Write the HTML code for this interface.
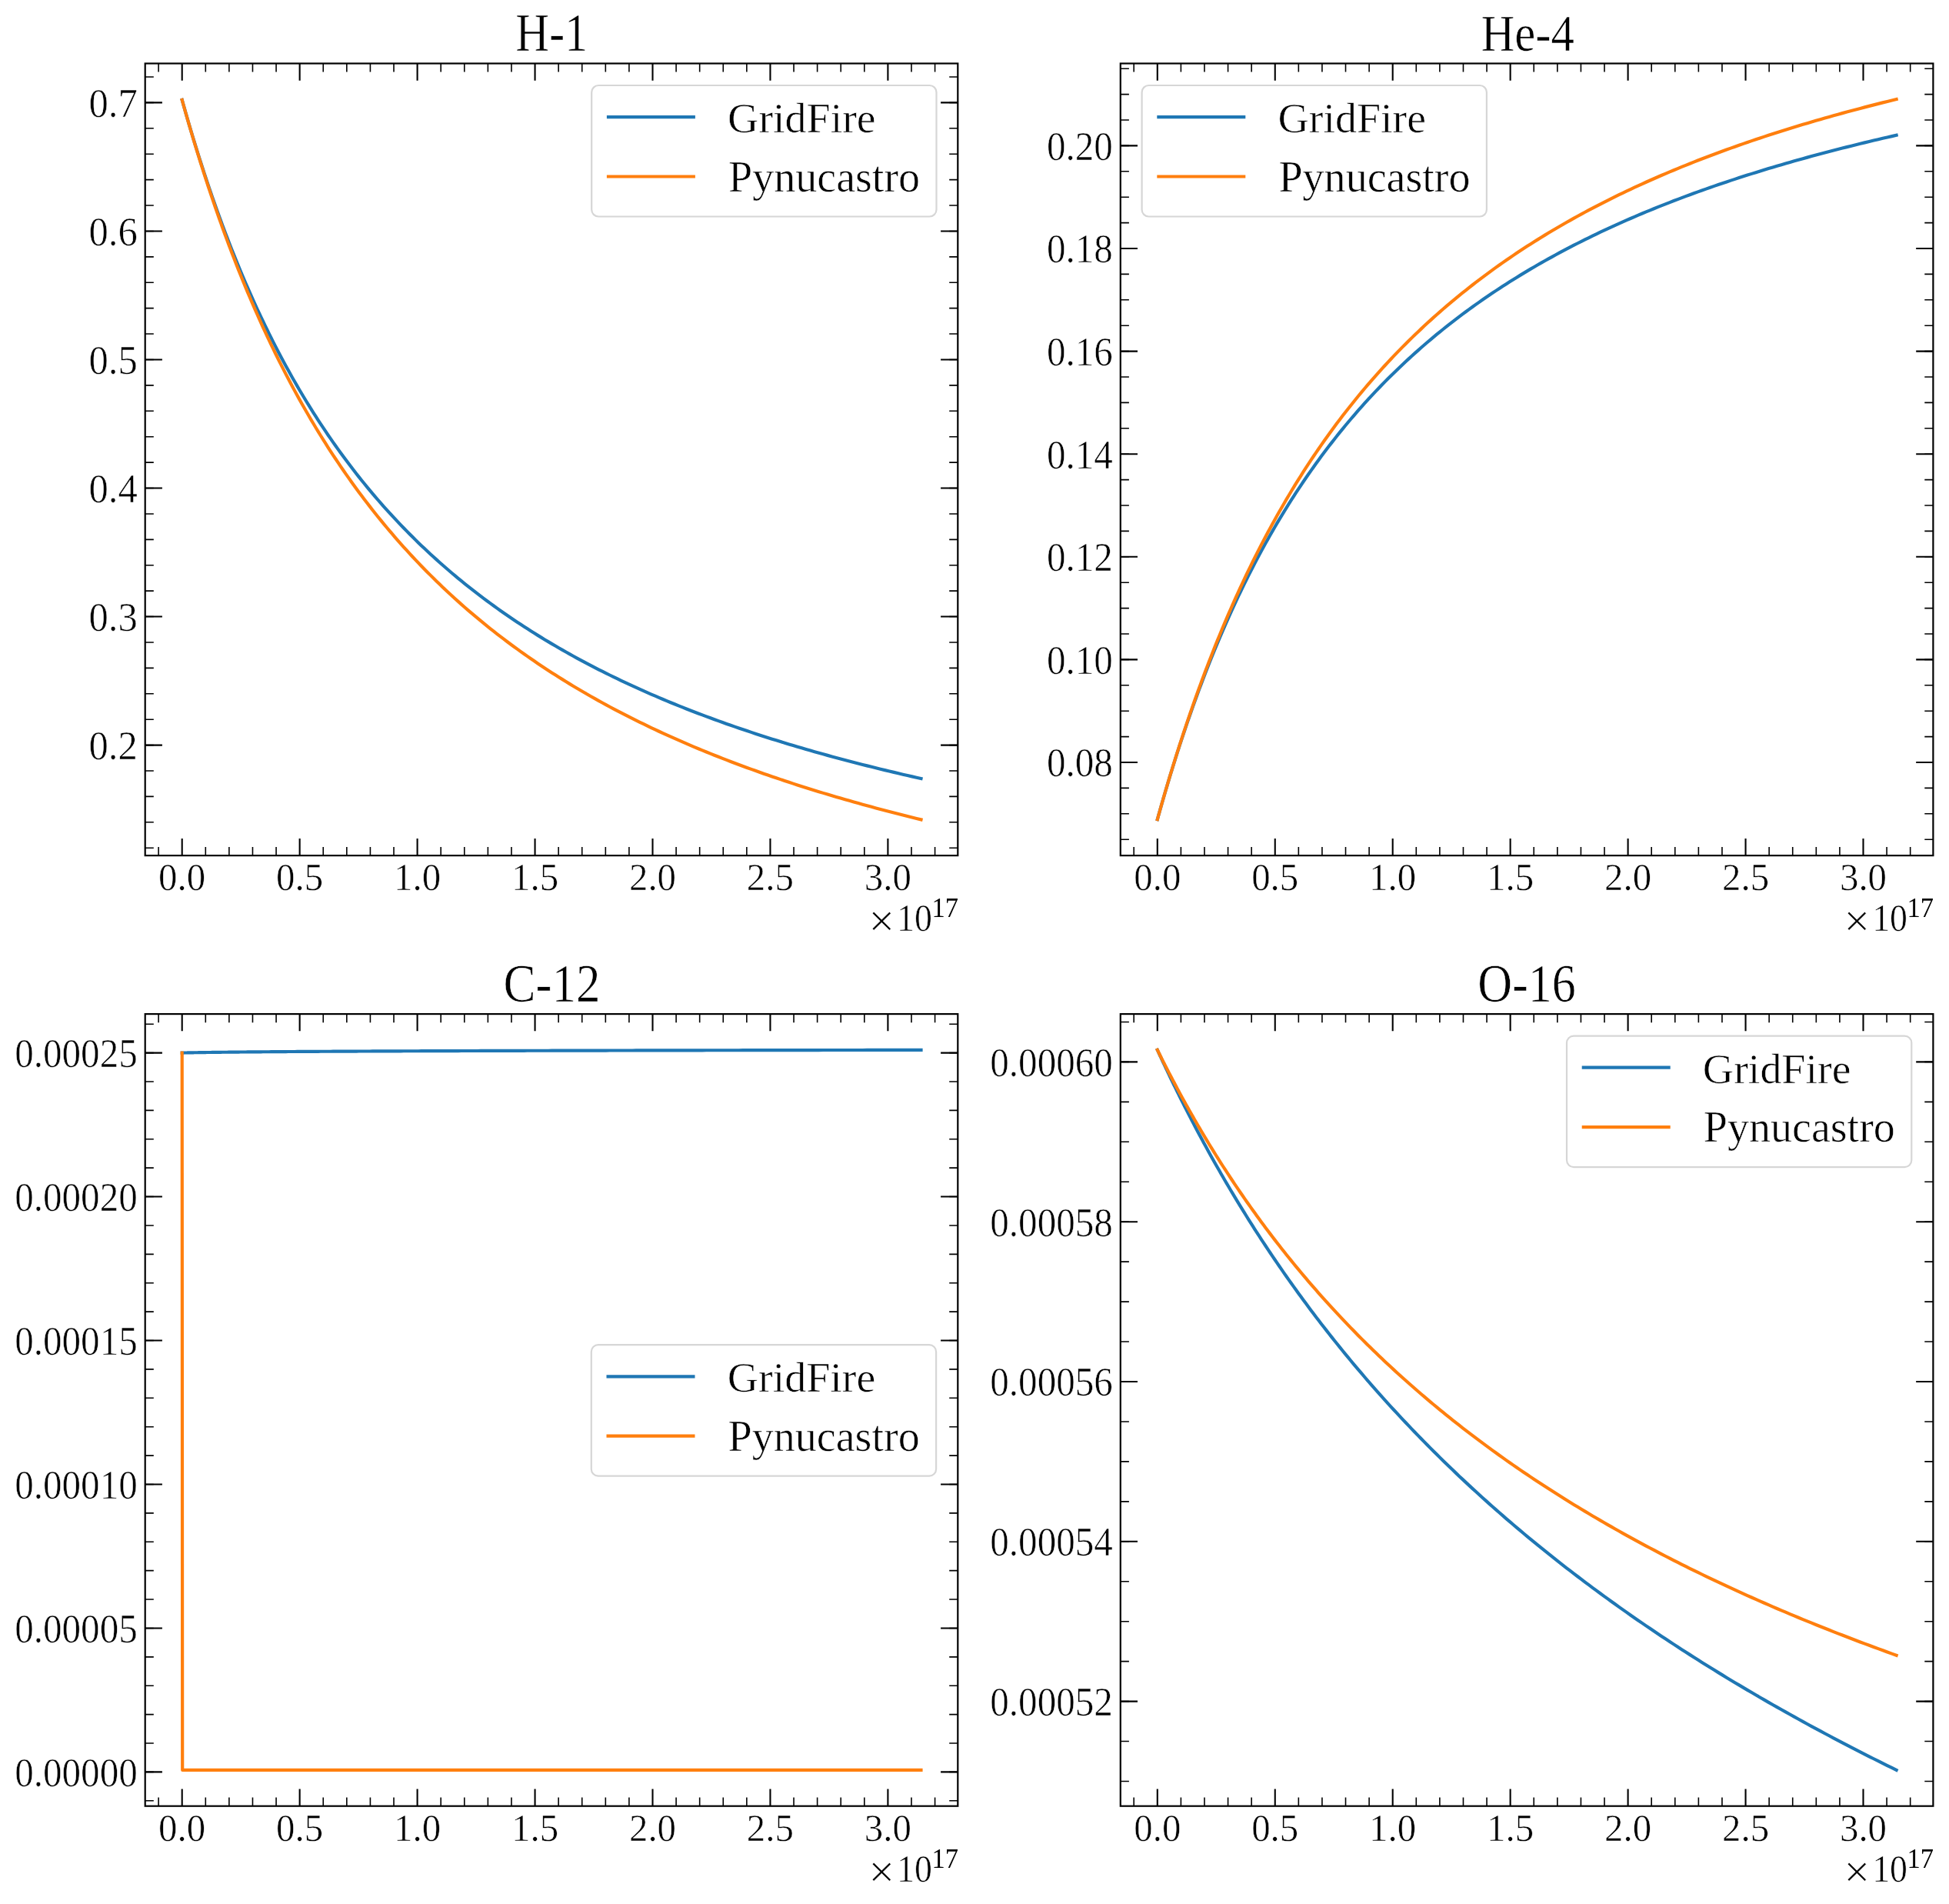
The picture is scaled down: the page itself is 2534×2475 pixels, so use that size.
<!DOCTYPE html>
<html><head><meta charset="utf-8"><style>
html,body{margin:0;padding:0;background:#fff;}
svg{display:block;will-change:transform;}
text{font-family:"Liberation Serif",serif;fill:#000;stroke:#fff;stroke-width:0.6px;}
</style></head><body>
<svg width="2534" height="2475" viewBox="0 0 2534 2475">
<rect width="2534" height="2475" fill="#fff"/>
<g stroke="#000" fill="none"><path d="M206.11 1112.10v-11.1M206.11 82.50v11.1" stroke-width="1.6"/><path d="M236.70 1112.10v-22.2M236.70 82.50v22.2" stroke-width="2.1"/><path d="M267.29 1112.10v-11.1M267.29 82.50v11.1" stroke-width="1.6"/><path d="M297.88 1112.10v-11.1M297.88 82.50v11.1" stroke-width="1.6"/><path d="M328.47 1112.10v-11.1M328.47 82.50v11.1" stroke-width="1.6"/><path d="M359.06 1112.10v-11.1M359.06 82.50v11.1" stroke-width="1.6"/><path d="M389.65 1112.10v-22.2M389.65 82.50v22.2" stroke-width="2.1"/><path d="M420.24 1112.10v-11.1M420.24 82.50v11.1" stroke-width="1.6"/><path d="M450.83 1112.10v-11.1M450.83 82.50v11.1" stroke-width="1.6"/><path d="M481.42 1112.10v-11.1M481.42 82.50v11.1" stroke-width="1.6"/><path d="M512.01 1112.10v-11.1M512.01 82.50v11.1" stroke-width="1.6"/><path d="M542.60 1112.10v-22.2M542.60 82.50v22.2" stroke-width="2.1"/><path d="M573.19 1112.10v-11.1M573.19 82.50v11.1" stroke-width="1.6"/><path d="M603.78 1112.10v-11.1M603.78 82.50v11.1" stroke-width="1.6"/><path d="M634.37 1112.10v-11.1M634.37 82.50v11.1" stroke-width="1.6"/><path d="M664.96 1112.10v-11.1M664.96 82.50v11.1" stroke-width="1.6"/><path d="M695.55 1112.10v-22.2M695.55 82.50v22.2" stroke-width="2.1"/><path d="M726.14 1112.10v-11.1M726.14 82.50v11.1" stroke-width="1.6"/><path d="M756.73 1112.10v-11.1M756.73 82.50v11.1" stroke-width="1.6"/><path d="M787.32 1112.10v-11.1M787.32 82.50v11.1" stroke-width="1.6"/><path d="M817.91 1112.10v-11.1M817.91 82.50v11.1" stroke-width="1.6"/><path d="M848.50 1112.10v-22.2M848.50 82.50v22.2" stroke-width="2.1"/><path d="M879.09 1112.10v-11.1M879.09 82.50v11.1" stroke-width="1.6"/><path d="M909.68 1112.10v-11.1M909.68 82.50v11.1" stroke-width="1.6"/><path d="M940.27 1112.10v-11.1M940.27 82.50v11.1" stroke-width="1.6"/><path d="M970.86 1112.10v-11.1M970.86 82.50v11.1" stroke-width="1.6"/><path d="M1001.45 1112.10v-22.2M1001.45 82.50v22.2" stroke-width="2.1"/><path d="M1032.04 1112.10v-11.1M1032.04 82.50v11.1" stroke-width="1.6"/><path d="M1062.63 1112.10v-11.1M1062.63 82.50v11.1" stroke-width="1.6"/><path d="M1093.22 1112.10v-11.1M1093.22 82.50v11.1" stroke-width="1.6"/><path d="M1123.81 1112.10v-11.1M1123.81 82.50v11.1" stroke-width="1.6"/><path d="M1154.40 1112.10v-22.2M1154.40 82.50v22.2" stroke-width="2.1"/><path d="M1184.99 1112.10v-11.1M1184.99 82.50v11.1" stroke-width="1.6"/><path d="M1215.58 1112.10v-11.1M1215.58 82.50v11.1" stroke-width="1.6"/><path d="M188.70 1102.23h11.1M1245.30 1102.23h-11.1" stroke-width="1.6"/><path d="M188.70 1068.82h11.1M1245.30 1068.82h-11.1" stroke-width="1.6"/><path d="M188.70 1035.42h11.1M1245.30 1035.42h-11.1" stroke-width="1.6"/><path d="M188.70 1002.01h11.1M1245.30 1002.01h-11.1" stroke-width="1.6"/><path d="M188.70 968.60h11.1M1245.30 968.60h-11.1" stroke-width="1.6"/><path d="M188.70 935.19h11.1M1245.30 935.19h-11.1" stroke-width="1.6"/><path d="M188.70 901.78h11.1M1245.30 901.78h-11.1" stroke-width="1.6"/><path d="M188.70 868.38h11.1M1245.30 868.38h-11.1" stroke-width="1.6"/><path d="M188.70 834.97h11.1M1245.30 834.97h-11.1" stroke-width="1.6"/><path d="M188.70 801.56h11.1M1245.30 801.56h-11.1" stroke-width="1.6"/><path d="M188.70 768.15h11.1M1245.30 768.15h-11.1" stroke-width="1.6"/><path d="M188.70 734.74h11.1M1245.30 734.74h-11.1" stroke-width="1.6"/><path d="M188.70 701.34h11.1M1245.30 701.34h-11.1" stroke-width="1.6"/><path d="M188.70 667.93h11.1M1245.30 667.93h-11.1" stroke-width="1.6"/><path d="M188.70 634.52h11.1M1245.30 634.52h-11.1" stroke-width="1.6"/><path d="M188.70 601.11h11.1M1245.30 601.11h-11.1" stroke-width="1.6"/><path d="M188.70 567.70h11.1M1245.30 567.70h-11.1" stroke-width="1.6"/><path d="M188.70 534.30h11.1M1245.30 534.30h-11.1" stroke-width="1.6"/><path d="M188.70 500.89h11.1M1245.30 500.89h-11.1" stroke-width="1.6"/><path d="M188.70 467.48h11.1M1245.30 467.48h-11.1" stroke-width="1.6"/><path d="M188.70 434.07h11.1M1245.30 434.07h-11.1" stroke-width="1.6"/><path d="M188.70 400.66h11.1M1245.30 400.66h-11.1" stroke-width="1.6"/><path d="M188.70 367.26h11.1M1245.30 367.26h-11.1" stroke-width="1.6"/><path d="M188.70 333.85h11.1M1245.30 333.85h-11.1" stroke-width="1.6"/><path d="M188.70 300.44h11.1M1245.30 300.44h-11.1" stroke-width="1.6"/><path d="M188.70 267.03h11.1M1245.30 267.03h-11.1" stroke-width="1.6"/><path d="M188.70 233.62h11.1M1245.30 233.62h-11.1" stroke-width="1.6"/><path d="M188.70 200.22h11.1M1245.30 200.22h-11.1" stroke-width="1.6"/><path d="M188.70 166.81h11.1M1245.30 166.81h-11.1" stroke-width="1.6"/><path d="M188.70 133.40h11.1M1245.30 133.40h-11.1" stroke-width="1.6"/><path d="M188.70 99.99h11.1M1245.30 99.99h-11.1" stroke-width="1.6"/><path d="M188.70 968.60h22.2M1245.30 968.60h-22.2" stroke-width="2.1"/><path d="M188.70 801.56h22.2M1245.30 801.56h-22.2" stroke-width="2.1"/><path d="M188.70 634.52h22.2M1245.30 634.52h-22.2" stroke-width="2.1"/><path d="M188.70 467.48h22.2M1245.30 467.48h-22.2" stroke-width="2.1"/><path d="M188.70 300.44h22.2M1245.30 300.44h-22.2" stroke-width="2.1"/><path d="M188.70 133.40h22.2M1245.30 133.40h-22.2" stroke-width="2.1"/></g>
<path d="M236.70 129.89 L236.83 130.36 L237.10 131.32 L237.47 132.63 L237.92 134.22 L238.44 136.07 L239.02 138.15 L239.68 140.44 L240.38 142.93 L241.15 145.60 L241.96 148.44 L242.83 151.44 L243.75 154.59 L244.71 157.89 L245.72 161.32 L246.77 164.89 L247.87 168.57 L249.01 172.38 L250.18 176.29 L251.40 180.31 L252.66 184.43 L253.96 188.65 L255.29 192.95 L256.66 197.35 L258.07 201.82 L259.51 206.37 L260.98 211.00 L262.50 215.70 L264.04 220.46 L265.62 225.28 L267.23 230.16 L268.88 235.10 L270.55 240.09 L272.26 245.12 L274.00 250.21 L275.77 255.33 L277.57 260.50 L279.41 265.70 L281.27 270.94 L283.16 276.21 L285.08 281.51 L287.03 286.83 L289.01 292.18 L291.01 297.55 L293.05 302.94 L295.11 308.35 L297.20 313.78 L299.32 319.22 L301.47 324.67 L303.64 330.13 L305.84 335.59 L308.06 341.07 L310.32 346.55 L312.59 352.03 L314.90 357.51 L317.23 362.99 L319.58 368.47 L321.96 373.95 L324.37 379.42 L326.80 384.89 L329.26 390.35 L331.74 395.80 L334.24 401.25 L336.77 406.68 L339.33 412.10 L341.90 417.51 L344.50 422.90 L347.13 428.28 L349.78 433.65 L352.45 439.00 L355.15 444.33 L357.87 449.64 L360.61 454.93 L363.37 460.21 L366.16 465.46 L368.97 470.69 L371.80 475.90 L374.66 481.09 L377.54 486.26 L380.44 491.40 L383.36 496.52 L386.30 501.62 L389.27 506.69 L392.26 511.73 L395.27 516.75 L398.30 521.74 L401.35 526.71 L404.43 531.65 L407.52 536.56 L410.64 541.45 L413.77 546.31 L416.93 551.14 L420.11 555.94 L423.31 560.71 L426.53 565.46 L429.77 570.17 L433.04 574.86 L436.32 579.52 L439.62 584.15 L442.95 588.74 L446.29 593.31 L449.65 597.85 L453.04 602.36 L456.44 606.84 L459.86 611.29 L463.31 615.71 L466.77 620.10 L470.25 624.46 L473.75 628.79 L477.27 633.09 L480.82 637.36 L484.38 641.60 L487.96 645.81 L491.56 649.99 L495.17 654.14 L498.81 658.26 L502.47 662.35 L506.14 666.42 L509.84 670.45 L513.55 674.45 L517.28 678.42 L521.03 682.36 L524.80 686.27 L528.59 690.16 L532.39 694.01 L536.22 697.84 L540.06 701.63 L543.92 705.40 L547.80 709.14 L551.70 712.85 L555.62 716.53 L559.55 720.18 L563.50 723.81 L567.47 727.41 L571.46 730.98 L575.47 734.52 L579.49 738.03 L583.53 741.52 L587.59 744.98 L591.67 748.41 L595.76 751.81 L599.88 755.19 L604.01 758.54 L608.15 761.87 L612.32 765.16 L616.50 768.44 L620.70 771.68 L624.92 774.90 L629.15 778.10 L633.40 781.27 L637.67 784.41 L641.96 787.53 L646.26 790.62 L650.58 793.69 L654.92 796.74 L659.27 799.76 L663.64 802.75 L668.03 805.72 L672.43 808.67 L676.85 811.60 L681.29 814.50 L685.74 817.37 L690.22 820.23 L694.70 823.06 L699.21 825.87 L703.73 828.65 L708.26 831.41 L712.82 834.15 L717.39 836.87 L721.97 839.57 L726.58 842.24 L731.19 844.90 L735.83 847.53 L740.48 850.14 L745.15 852.73 L749.83 855.30 L754.53 857.85 L759.25 860.37 L763.98 862.88 L768.73 865.37 L773.49 867.83 L778.27 870.28 L783.06 872.71 L787.88 875.11 L792.70 877.50 L797.54 879.87 L802.40 882.22 L807.28 884.55 L812.17 886.86 L817.07 889.16 L821.99 891.43 L826.93 893.69 L831.88 895.93 L836.85 898.15 L841.83 900.35 L846.83 902.54 L851.85 904.71 L856.87 906.86 L861.92 908.99 L866.98 911.11 L872.05 913.21 L877.14 915.29 L882.25 917.36 L887.37 919.41 L892.51 921.44 L897.66 923.46 L902.82 925.46 L908.01 927.45 L913.20 929.42 L918.41 931.37 L923.64 933.31 L928.88 935.23 L934.14 937.14 L939.41 939.04 L944.69 940.91 L950.00 942.78 L955.31 944.63 L960.64 946.46 L965.99 948.28 L971.35 950.09 L976.72 951.88 L982.11 953.66 L987.51 955.43 L992.93 957.18 L998.37 958.91 L1003.81 960.64 L1009.28 962.35 L1014.75 964.05 L1020.24 965.73 L1025.75 967.40 L1031.27 969.06 L1036.80 970.71 L1042.35 972.34 L1047.92 973.96 L1053.50 975.57 L1059.09 977.16 L1064.69 978.75 L1070.31 980.32 L1075.95 981.88 L1081.60 983.42 L1087.26 984.96 L1092.94 986.48 L1098.63 988.00 L1104.34 989.50 L1110.06 990.99 L1115.79 992.47 L1121.54 993.93 L1127.30 995.39 L1133.08 996.84 L1138.87 998.27 L1144.67 999.69 L1150.49 1001.11 L1156.32 1002.51 L1162.17 1003.90 L1168.03 1005.28 L1173.90 1006.66 L1179.79 1008.02 L1185.69 1009.37 L1191.60 1010.71 L1197.53 1012.04" fill="none" stroke="#1f77b4" stroke-width="4.17" stroke-linecap="square" stroke-linejoin="round"/><path d="M236.70 129.89 L236.83 130.37 L237.10 131.33 L237.47 132.65 L237.92 134.26 L238.44 136.12 L239.02 138.22 L239.68 140.53 L240.38 143.03 L241.15 145.73 L241.96 148.59 L242.83 151.63 L243.75 154.81 L244.71 158.15 L245.72 161.62 L246.77 165.22 L247.87 168.96 L249.01 172.81 L250.18 176.78 L251.40 180.85 L252.66 185.03 L253.96 189.31 L255.29 193.69 L256.66 198.15 L258.07 202.70 L259.51 207.34 L260.98 212.05 L262.50 216.83 L264.04 221.68 L265.62 226.60 L267.23 231.59 L268.88 236.63 L270.55 241.73 L272.26 246.88 L274.00 252.08 L275.77 257.33 L277.57 262.63 L279.41 267.96 L281.27 273.34 L283.16 278.75 L285.08 284.20 L287.03 289.67 L289.01 295.18 L291.01 300.71 L293.05 306.27 L295.11 311.85 L297.20 317.45 L299.32 323.07 L301.47 328.70 L303.64 334.35 L305.84 340.01 L308.06 345.68 L310.32 351.36 L312.59 357.04 L314.90 362.73 L317.23 368.43 L319.58 374.13 L321.96 379.83 L324.37 385.52 L326.80 391.22 L329.26 396.91 L331.74 402.60 L334.24 408.28 L336.77 413.96 L339.33 419.62 L341.90 425.28 L344.50 430.93 L347.13 436.56 L349.78 442.19 L352.45 447.80 L355.15 453.39 L357.87 458.97 L360.61 464.54 L363.37 470.08 L366.16 475.61 L368.97 481.12 L371.80 486.61 L374.66 492.08 L377.54 497.53 L380.44 502.96 L383.36 508.37 L386.30 513.76 L389.27 519.12 L392.26 524.46 L395.27 529.77 L398.30 535.06 L401.35 540.33 L404.43 545.57 L407.52 550.78 L410.64 555.97 L413.77 561.13 L416.93 566.27 L420.11 571.38 L423.31 576.46 L426.53 581.51 L429.77 586.53 L433.04 591.53 L436.32 596.50 L439.62 601.43 L442.95 606.34 L446.29 611.22 L449.65 616.08 L453.04 620.90 L456.44 625.69 L459.86 630.45 L463.31 635.19 L466.77 639.89 L470.25 644.56 L473.75 649.20 L477.27 653.82 L480.82 658.40 L484.38 662.95 L487.96 667.47 L491.56 671.96 L495.17 676.42 L498.81 680.86 L502.47 685.26 L506.14 689.63 L509.84 693.97 L513.55 698.28 L517.28 702.55 L521.03 706.80 L524.80 711.02 L528.59 715.21 L532.39 719.37 L536.22 723.50 L540.06 727.60 L543.92 731.67 L547.80 735.71 L551.70 739.72 L555.62 743.70 L559.55 747.65 L563.50 751.57 L567.47 755.46 L571.46 759.33 L575.47 763.16 L579.49 766.97 L583.53 770.74 L587.59 774.49 L591.67 778.21 L595.76 781.90 L599.88 785.57 L604.01 789.20 L608.15 792.81 L612.32 796.39 L616.50 799.94 L620.70 803.47 L624.92 806.96 L629.15 810.43 L633.40 813.88 L637.67 817.29 L641.96 820.68 L646.26 824.05 L650.58 827.38 L654.92 830.69 L659.27 833.98 L663.64 837.24 L668.03 840.47 L672.43 843.68 L676.85 846.86 L681.29 850.02 L685.74 853.15 L690.22 856.26 L694.70 859.34 L699.21 862.40 L703.73 865.44 L708.26 868.45 L712.82 871.43 L717.39 874.40 L721.97 877.34 L726.58 880.25 L731.19 883.14 L735.83 886.01 L740.48 888.86 L745.15 891.68 L749.83 894.48 L754.53 897.26 L759.25 900.02 L763.98 902.75 L768.73 905.47 L773.49 908.16 L778.27 910.83 L783.06 913.48 L787.88 916.10 L792.70 918.71 L797.54 921.29 L802.40 923.86 L807.28 926.40 L812.17 928.93 L817.07 931.43 L821.99 933.91 L826.93 936.38 L831.88 938.82 L836.85 941.24 L841.83 943.65 L846.83 946.03 L851.85 948.40 L856.87 950.75 L861.92 953.08 L866.98 955.39 L872.05 957.68 L877.14 959.95 L882.25 962.21 L887.37 964.45 L892.51 966.67 L897.66 968.87 L902.82 971.05 L908.01 973.22 L913.20 975.37 L918.41 977.50 L923.64 979.62 L928.88 981.72 L934.14 983.80 L939.41 985.87 L944.69 987.92 L950.00 989.95 L955.31 991.97 L960.64 993.97 L965.99 995.96 L971.35 997.93 L976.72 999.88 L982.11 1001.82 L987.51 1003.75 L992.93 1005.66 L998.37 1007.55 L1003.81 1009.43 L1009.28 1011.29 L1014.75 1013.14 L1020.24 1014.98 L1025.75 1016.80 L1031.27 1018.61 L1036.80 1020.40 L1042.35 1022.18 L1047.92 1023.95 L1053.50 1025.70 L1059.09 1027.43 L1064.69 1029.16 L1070.31 1030.87 L1075.95 1032.57 L1081.60 1034.25 L1087.26 1035.92 L1092.94 1037.58 L1098.63 1039.23 L1104.34 1040.86 L1110.06 1042.48 L1115.79 1044.09 L1121.54 1045.69 L1127.30 1047.27 L1133.08 1048.84 L1138.87 1050.40 L1144.67 1051.95 L1150.49 1053.48 L1156.32 1055.01 L1162.17 1056.52 L1168.03 1058.02 L1173.90 1059.51 L1179.79 1060.99 L1185.69 1062.46 L1191.60 1063.91 L1197.53 1065.36" fill="none" stroke="#ff7f0e" stroke-width="4.17" stroke-linecap="square" stroke-linejoin="round"/>
<rect x="188.7" y="82.5" width="1056.60" height="1029.60" fill="none" stroke="#000" stroke-width="2.2" stroke-linejoin="miter"/>
<g font-size="52.8" transform="scale(0.96,1)"><text x="186.19" y="987.10" text-anchor="end">0.2</text><text x="186.19" y="820.06" text-anchor="end">0.3</text><text x="186.19" y="653.02" text-anchor="end">0.4</text><text x="186.19" y="485.98" text-anchor="end">0.5</text><text x="186.19" y="318.94" text-anchor="end">0.6</text><text x="186.19" y="151.90" text-anchor="end">0.7</text></g>
<g font-size="51.5" transform="scale(0.95,1)"><text x="249.16" y="1157.20" text-anchor="middle">0.0</text><text x="410.16" y="1157.20" text-anchor="middle">0.5</text><text x="571.16" y="1157.20" text-anchor="middle">1.0</text><text x="732.16" y="1157.20" text-anchor="middle">1.5</text><text x="893.16" y="1157.20" text-anchor="middle">2.0</text><text x="1054.16" y="1157.20" text-anchor="middle">2.5</text><text x="1215.16" y="1157.20" text-anchor="middle">3.0</text></g>
<text transform="translate(1129.18,1217.07) scale(1.0209,1)" font-size="59.01">×</text>
<text transform="translate(1166.09,1210.10) scale(0.9179,1)" font-size="49.93">10</text>
<text transform="translate(1211.48,1192.00) scale(0.9625,1)" font-size="35.91" style="stroke:none">17</text>
<text transform="translate(670.18,65.80) scale(0.8802,1)" font-size="68.79">H-1</text>
<rect x="769.2" y="111.0" width="448.3" height="170.5" rx="9" fill="#fff" fill-opacity="0.8" stroke="#d6d6d6" stroke-width="2.2"/>
<path d="M788.90 152.10h115" stroke="#1f77b4" stroke-width="4.17"/>
<path d="M788.90 229.50h115" stroke="#ff7f0e" stroke-width="4.17"/>
<text transform="translate(946.06,172.00) scale(1.0045,1)" font-size="55.68">GridFire</text>
<text transform="translate(947.02,248.80) scale(0.9714,1)" font-size="57.71">Pynucastro</text>
<g stroke="#000" fill="none"><path d="M1474.21 1112.10v-11.1M1474.21 82.50v11.1" stroke-width="1.6"/><path d="M1504.80 1112.10v-22.2M1504.80 82.50v22.2" stroke-width="2.1"/><path d="M1535.39 1112.10v-11.1M1535.39 82.50v11.1" stroke-width="1.6"/><path d="M1565.98 1112.10v-11.1M1565.98 82.50v11.1" stroke-width="1.6"/><path d="M1596.57 1112.10v-11.1M1596.57 82.50v11.1" stroke-width="1.6"/><path d="M1627.16 1112.10v-11.1M1627.16 82.50v11.1" stroke-width="1.6"/><path d="M1657.75 1112.10v-22.2M1657.75 82.50v22.2" stroke-width="2.1"/><path d="M1688.34 1112.10v-11.1M1688.34 82.50v11.1" stroke-width="1.6"/><path d="M1718.93 1112.10v-11.1M1718.93 82.50v11.1" stroke-width="1.6"/><path d="M1749.52 1112.10v-11.1M1749.52 82.50v11.1" stroke-width="1.6"/><path d="M1780.11 1112.10v-11.1M1780.11 82.50v11.1" stroke-width="1.6"/><path d="M1810.70 1112.10v-22.2M1810.70 82.50v22.2" stroke-width="2.1"/><path d="M1841.29 1112.10v-11.1M1841.29 82.50v11.1" stroke-width="1.6"/><path d="M1871.88 1112.10v-11.1M1871.88 82.50v11.1" stroke-width="1.6"/><path d="M1902.47 1112.10v-11.1M1902.47 82.50v11.1" stroke-width="1.6"/><path d="M1933.06 1112.10v-11.1M1933.06 82.50v11.1" stroke-width="1.6"/><path d="M1963.65 1112.10v-22.2M1963.65 82.50v22.2" stroke-width="2.1"/><path d="M1994.24 1112.10v-11.1M1994.24 82.50v11.1" stroke-width="1.6"/><path d="M2024.83 1112.10v-11.1M2024.83 82.50v11.1" stroke-width="1.6"/><path d="M2055.42 1112.10v-11.1M2055.42 82.50v11.1" stroke-width="1.6"/><path d="M2086.01 1112.10v-11.1M2086.01 82.50v11.1" stroke-width="1.6"/><path d="M2116.60 1112.10v-22.2M2116.60 82.50v22.2" stroke-width="2.1"/><path d="M2147.19 1112.10v-11.1M2147.19 82.50v11.1" stroke-width="1.6"/><path d="M2177.78 1112.10v-11.1M2177.78 82.50v11.1" stroke-width="1.6"/><path d="M2208.37 1112.10v-11.1M2208.37 82.50v11.1" stroke-width="1.6"/><path d="M2238.96 1112.10v-11.1M2238.96 82.50v11.1" stroke-width="1.6"/><path d="M2269.55 1112.10v-22.2M2269.55 82.50v22.2" stroke-width="2.1"/><path d="M2300.14 1112.10v-11.1M2300.14 82.50v11.1" stroke-width="1.6"/><path d="M2330.73 1112.10v-11.1M2330.73 82.50v11.1" stroke-width="1.6"/><path d="M2361.32 1112.10v-11.1M2361.32 82.50v11.1" stroke-width="1.6"/><path d="M2391.91 1112.10v-11.1M2391.91 82.50v11.1" stroke-width="1.6"/><path d="M2422.50 1112.10v-22.2M2422.50 82.50v22.2" stroke-width="2.1"/><path d="M2453.09 1112.10v-11.1M2453.09 82.50v11.1" stroke-width="1.6"/><path d="M2483.68 1112.10v-11.1M2483.68 82.50v11.1" stroke-width="1.6"/><path d="M1456.80 1091.20h11.1M2513.40 1091.20h-11.1" stroke-width="1.6"/><path d="M1456.80 1057.80h11.1M2513.40 1057.80h-11.1" stroke-width="1.6"/><path d="M1456.80 1024.40h11.1M2513.40 1024.40h-11.1" stroke-width="1.6"/><path d="M1456.80 991.00h11.1M2513.40 991.00h-11.1" stroke-width="1.6"/><path d="M1456.80 957.60h11.1M2513.40 957.60h-11.1" stroke-width="1.6"/><path d="M1456.80 924.20h11.1M2513.40 924.20h-11.1" stroke-width="1.6"/><path d="M1456.80 890.80h11.1M2513.40 890.80h-11.1" stroke-width="1.6"/><path d="M1456.80 857.40h11.1M2513.40 857.40h-11.1" stroke-width="1.6"/><path d="M1456.80 824.00h11.1M2513.40 824.00h-11.1" stroke-width="1.6"/><path d="M1456.80 790.60h11.1M2513.40 790.60h-11.1" stroke-width="1.6"/><path d="M1456.80 757.20h11.1M2513.40 757.20h-11.1" stroke-width="1.6"/><path d="M1456.80 723.80h11.1M2513.40 723.80h-11.1" stroke-width="1.6"/><path d="M1456.80 690.40h11.1M2513.40 690.40h-11.1" stroke-width="1.6"/><path d="M1456.80 657.00h11.1M2513.40 657.00h-11.1" stroke-width="1.6"/><path d="M1456.80 623.60h11.1M2513.40 623.60h-11.1" stroke-width="1.6"/><path d="M1456.80 590.20h11.1M2513.40 590.20h-11.1" stroke-width="1.6"/><path d="M1456.80 556.80h11.1M2513.40 556.80h-11.1" stroke-width="1.6"/><path d="M1456.80 523.40h11.1M2513.40 523.40h-11.1" stroke-width="1.6"/><path d="M1456.80 490.00h11.1M2513.40 490.00h-11.1" stroke-width="1.6"/><path d="M1456.80 456.60h11.1M2513.40 456.60h-11.1" stroke-width="1.6"/><path d="M1456.80 423.20h11.1M2513.40 423.20h-11.1" stroke-width="1.6"/><path d="M1456.80 389.80h11.1M2513.40 389.80h-11.1" stroke-width="1.6"/><path d="M1456.80 356.40h11.1M2513.40 356.40h-11.1" stroke-width="1.6"/><path d="M1456.80 323.00h11.1M2513.40 323.00h-11.1" stroke-width="1.6"/><path d="M1456.80 289.60h11.1M2513.40 289.60h-11.1" stroke-width="1.6"/><path d="M1456.80 256.20h11.1M2513.40 256.20h-11.1" stroke-width="1.6"/><path d="M1456.80 222.80h11.1M2513.40 222.80h-11.1" stroke-width="1.6"/><path d="M1456.80 189.40h11.1M2513.40 189.40h-11.1" stroke-width="1.6"/><path d="M1456.80 156.00h11.1M2513.40 156.00h-11.1" stroke-width="1.6"/><path d="M1456.80 122.60h11.1M2513.40 122.60h-11.1" stroke-width="1.6"/><path d="M1456.80 89.20h11.1M2513.40 89.20h-11.1" stroke-width="1.6"/><path d="M1456.80 991.00h22.2M2513.40 991.00h-22.2" stroke-width="2.1"/><path d="M1456.80 857.40h22.2M2513.40 857.40h-22.2" stroke-width="2.1"/><path d="M1456.80 723.80h22.2M2513.40 723.80h-22.2" stroke-width="2.1"/><path d="M1456.80 590.20h22.2M2513.40 590.20h-22.2" stroke-width="2.1"/><path d="M1456.80 456.60h22.2M2513.40 456.60h-22.2" stroke-width="2.1"/><path d="M1456.80 323.00h22.2M2513.40 323.00h-22.2" stroke-width="2.1"/><path d="M1456.80 189.40h22.2M2513.40 189.40h-22.2" stroke-width="2.1"/></g>
<path d="M1504.80 1065.15 L1504.93 1064.67 L1505.20 1063.70 L1505.57 1062.39 L1506.02 1060.78 L1506.54 1058.92 L1507.12 1056.82 L1507.78 1054.51 L1508.48 1052.01 L1509.25 1049.32 L1510.06 1046.45 L1510.93 1043.43 L1511.85 1040.25 L1512.81 1036.92 L1513.82 1033.46 L1514.87 1029.87 L1515.97 1026.15 L1517.11 1022.32 L1518.28 1018.37 L1519.50 1014.32 L1520.76 1010.16 L1522.06 1005.91 L1523.39 1001.57 L1524.76 997.14 L1526.17 992.63 L1527.61 988.04 L1529.08 983.38 L1530.60 978.64 L1532.14 973.84 L1533.72 968.98 L1535.33 964.06 L1536.98 959.08 L1538.65 954.05 L1540.36 948.97 L1542.10 943.85 L1543.87 938.68 L1545.67 933.47 L1547.51 928.23 L1549.37 922.95 L1551.26 917.63 L1553.18 912.29 L1555.13 906.92 L1557.11 901.53 L1559.11 896.12 L1561.15 890.68 L1563.21 885.23 L1565.30 879.76 L1567.42 874.28 L1569.57 868.78 L1571.74 863.28 L1573.94 857.76 L1576.16 852.25 L1578.42 846.72 L1580.69 841.20 L1583.00 835.67 L1585.33 830.14 L1587.68 824.61 L1590.06 819.09 L1592.47 813.57 L1594.90 808.06 L1597.36 802.56 L1599.84 797.06 L1602.34 791.57 L1604.87 786.10 L1607.43 780.63 L1610.00 775.18 L1612.60 769.74 L1615.23 764.32 L1617.88 758.91 L1620.55 753.52 L1623.25 748.14 L1625.97 742.79 L1628.71 737.45 L1631.47 732.13 L1634.26 726.83 L1637.07 721.56 L1639.90 716.30 L1642.76 711.07 L1645.64 705.86 L1648.54 700.68 L1651.46 695.52 L1654.40 690.38 L1657.37 685.27 L1660.36 680.18 L1663.37 675.12 L1666.40 670.09 L1669.45 665.08 L1672.53 660.10 L1675.62 655.15 L1678.74 650.22 L1681.87 645.33 L1685.03 640.46 L1688.21 635.61 L1691.41 630.80 L1694.63 626.02 L1697.87 621.26 L1701.14 616.54 L1704.42 611.84 L1707.72 607.18 L1711.05 602.54 L1714.39 597.93 L1717.75 593.36 L1721.14 588.81 L1724.54 584.29 L1727.96 579.81 L1731.41 575.35 L1734.87 570.93 L1738.35 566.53 L1741.85 562.16 L1745.37 557.83 L1748.92 553.52 L1752.48 549.25 L1756.06 545.00 L1759.66 540.79 L1763.27 536.61 L1766.91 532.45 L1770.57 528.33 L1774.24 524.23 L1777.94 520.17 L1781.65 516.14 L1785.38 512.13 L1789.13 508.16 L1792.90 504.21 L1796.69 500.30 L1800.49 496.41 L1804.32 492.56 L1808.16 488.73 L1812.02 484.93 L1815.90 481.16 L1819.80 477.42 L1823.72 473.71 L1827.65 470.03 L1831.60 466.37 L1835.57 462.75 L1839.56 459.15 L1843.57 455.58 L1847.59 452.03 L1851.63 448.52 L1855.69 445.03 L1859.77 441.57 L1863.86 438.14 L1867.98 434.73 L1872.11 431.36 L1876.25 428.00 L1880.42 424.68 L1884.60 421.38 L1888.80 418.11 L1893.02 414.86 L1897.25 411.64 L1901.50 408.44 L1905.77 405.27 L1910.06 402.13 L1914.36 399.01 L1918.68 395.92 L1923.02 392.85 L1927.37 389.80 L1931.74 386.78 L1936.13 383.79 L1940.53 380.81 L1944.95 377.87 L1949.39 374.94 L1953.84 372.04 L1958.32 369.16 L1962.80 366.31 L1967.31 363.48 L1971.83 360.67 L1976.36 357.89 L1980.92 355.12 L1985.49 352.38 L1990.07 349.66 L1994.68 346.97 L1999.29 344.29 L2003.93 341.64 L2008.58 339.01 L2013.25 336.40 L2017.93 333.81 L2022.63 331.24 L2027.35 328.69 L2032.08 326.16 L2036.83 323.66 L2041.59 321.17 L2046.37 318.70 L2051.16 316.26 L2055.98 313.83 L2060.80 311.42 L2065.64 309.03 L2070.50 306.66 L2075.38 304.31 L2080.27 301.98 L2085.17 299.67 L2090.09 297.38 L2095.03 295.10 L2099.98 292.84 L2104.95 290.61 L2109.93 288.38 L2114.93 286.18 L2119.95 284.00 L2124.97 281.83 L2130.02 279.68 L2135.08 277.54 L2140.15 275.42 L2145.24 273.32 L2150.35 271.24 L2155.47 269.17 L2160.61 267.12 L2165.76 265.09 L2170.92 263.07 L2176.11 261.07 L2181.30 259.08 L2186.51 257.11 L2191.74 255.16 L2196.98 253.22 L2202.24 251.29 L2207.51 249.38 L2212.79 247.49 L2218.10 245.61 L2223.41 243.75 L2228.74 241.90 L2234.09 240.06 L2239.45 238.24 L2244.82 236.43 L2250.21 234.64 L2255.61 232.86 L2261.03 231.09 L2266.47 229.34 L2271.91 227.60 L2277.38 225.88 L2282.85 224.17 L2288.34 222.47 L2293.85 220.79 L2299.37 219.11 L2304.90 217.45 L2310.45 215.81 L2316.02 214.18 L2321.60 212.55 L2327.19 210.95 L2332.79 209.35 L2338.41 207.76 L2344.05 206.19 L2349.70 204.63 L2355.36 203.08 L2361.04 201.55 L2366.73 200.02 L2372.44 198.51 L2378.16 197.01 L2383.89 195.52 L2389.64 194.04 L2395.40 192.57 L2401.18 191.11 L2406.97 189.66 L2412.77 188.23 L2418.59 186.80 L2424.42 185.39 L2430.27 183.99 L2436.13 182.59 L2442.00 181.21 L2447.89 179.84 L2453.79 178.48 L2459.70 177.12 L2465.63 175.78" fill="none" stroke="#1f77b4" stroke-width="4.17" stroke-linecap="square" stroke-linejoin="round"/><path d="M1504.80 1065.15 L1504.93 1064.67 L1505.20 1063.70 L1505.57 1062.39 L1506.02 1060.78 L1506.54 1058.92 L1507.12 1056.82 L1507.78 1054.51 L1508.48 1052.00 L1509.25 1049.30 L1510.06 1046.43 L1510.93 1043.40 L1511.85 1040.21 L1512.81 1036.87 L1513.82 1033.40 L1514.87 1029.79 L1515.97 1026.06 L1517.11 1022.20 L1518.28 1018.23 L1519.50 1014.15 L1520.76 1009.97 L1522.06 1005.68 L1523.39 1001.31 L1524.76 996.84 L1526.17 992.28 L1527.61 987.65 L1529.08 982.94 L1530.60 978.15 L1532.14 973.29 L1533.72 968.37 L1535.33 963.38 L1536.98 958.34 L1538.65 953.23 L1540.36 948.08 L1542.10 942.87 L1543.87 937.62 L1545.67 932.32 L1547.51 926.98 L1549.37 921.60 L1551.26 916.18 L1553.18 910.73 L1555.13 905.25 L1557.11 899.74 L1559.11 894.21 L1561.15 888.65 L1563.21 883.06 L1565.30 877.46 L1567.42 871.84 L1569.57 866.20 L1571.74 860.55 L1573.94 854.88 L1576.16 849.21 L1578.42 843.53 L1580.69 837.84 L1583.00 832.14 L1585.33 826.44 L1587.68 820.74 L1590.06 815.04 L1592.47 809.33 L1594.90 803.63 L1597.36 797.94 L1599.84 792.25 L1602.34 786.56 L1604.87 780.88 L1607.43 775.21 L1610.00 769.55 L1612.60 763.90 L1615.23 758.26 L1617.88 752.63 L1620.55 747.02 L1623.25 741.42 L1625.97 735.83 L1628.71 730.27 L1631.47 724.72 L1634.26 719.18 L1637.07 713.67 L1639.90 708.17 L1642.76 702.70 L1645.64 697.24 L1648.54 691.81 L1651.46 686.40 L1654.40 681.01 L1657.37 675.64 L1660.36 670.30 L1663.37 664.98 L1666.40 659.69 L1669.45 654.42 L1672.53 649.17 L1675.62 643.96 L1678.74 638.77 L1681.87 633.60 L1685.03 628.46 L1688.21 623.35 L1691.41 618.27 L1694.63 613.21 L1697.87 608.18 L1701.14 603.18 L1704.42 598.21 L1707.72 593.27 L1711.05 588.36 L1714.39 583.47 L1717.75 578.62 L1721.14 573.79 L1724.54 569.00 L1727.96 564.23 L1731.41 559.49 L1734.87 554.79 L1738.35 550.11 L1741.85 545.47 L1745.37 540.85 L1748.92 536.26 L1752.48 531.71 L1756.06 527.18 L1759.66 522.69 L1763.27 518.23 L1766.91 513.79 L1770.57 509.39 L1774.24 505.02 L1777.94 500.67 L1781.65 496.36 L1785.38 492.08 L1789.13 487.83 L1792.90 483.60 L1796.69 479.41 L1800.49 475.25 L1804.32 471.12 L1808.16 467.02 L1812.02 462.94 L1815.90 458.90 L1819.80 454.89 L1823.72 450.91 L1827.65 446.95 L1831.60 443.03 L1835.57 439.13 L1839.56 435.27 L1843.57 431.43 L1847.59 427.62 L1851.63 423.84 L1855.69 420.09 L1859.77 416.37 L1863.86 412.67 L1867.98 409.01 L1872.11 405.37 L1876.25 401.76 L1880.42 398.18 L1884.60 394.62 L1888.80 391.09 L1893.02 387.59 L1897.25 384.12 L1901.50 380.68 L1905.77 377.26 L1910.06 373.86 L1914.36 370.50 L1918.68 367.16 L1923.02 363.85 L1927.37 360.56 L1931.74 357.30 L1936.13 354.06 L1940.53 350.85 L1944.95 347.67 L1949.39 344.51 L1953.84 341.37 L1958.32 338.26 L1962.80 335.18 L1967.31 332.12 L1971.83 329.08 L1976.36 326.07 L1980.92 323.08 L1985.49 320.11 L1990.07 317.17 L1994.68 314.25 L1999.29 311.36 L2003.93 308.49 L2008.58 305.64 L2013.25 302.81 L2017.93 300.01 L2022.63 297.23 L2027.35 294.47 L2032.08 291.73 L2036.83 289.02 L2041.59 286.33 L2046.37 283.66 L2051.16 281.01 L2055.98 278.38 L2060.80 275.77 L2065.64 273.18 L2070.50 270.62 L2075.38 268.07 L2080.27 265.54 L2085.17 263.04 L2090.09 260.55 L2095.03 258.09 L2099.98 255.64 L2104.95 253.22 L2109.93 250.81 L2114.93 248.42 L2119.95 246.06 L2124.97 243.71 L2130.02 241.38 L2135.08 239.06 L2140.15 236.77 L2145.24 234.49 L2150.35 232.24 L2155.47 230.00 L2160.61 227.78 L2165.76 225.57 L2170.92 223.39 L2176.11 221.22 L2181.30 219.07 L2186.51 216.93 L2191.74 214.81 L2196.98 212.71 L2202.24 210.63 L2207.51 208.56 L2212.79 206.51 L2218.10 204.47 L2223.41 202.45 L2228.74 200.45 L2234.09 198.46 L2239.45 196.49 L2244.82 194.54 L2250.21 192.60 L2255.61 190.67 L2261.03 188.76 L2266.47 186.86 L2271.91 184.98 L2277.38 183.12 L2282.85 181.27 L2288.34 179.43 L2293.85 177.61 L2299.37 175.80 L2304.90 174.00 L2310.45 172.22 L2316.02 170.46 L2321.60 168.70 L2327.19 166.97 L2332.79 165.24 L2338.41 163.53 L2344.05 161.83 L2349.70 160.14 L2355.36 158.47 L2361.04 156.81 L2366.73 155.16 L2372.44 153.53 L2378.16 151.91 L2383.89 150.30 L2389.64 148.70 L2395.40 147.12 L2401.18 145.54 L2406.97 143.98 L2412.77 142.43 L2418.59 140.90 L2424.42 139.37 L2430.27 137.86 L2436.13 136.36 L2442.00 134.87 L2447.89 133.39 L2453.79 131.92 L2459.70 130.46 L2465.63 129.02" fill="none" stroke="#ff7f0e" stroke-width="4.17" stroke-linecap="square" stroke-linejoin="round"/>
<rect x="1456.8" y="82.5" width="1056.60" height="1029.60" fill="none" stroke="#000" stroke-width="2.2" stroke-linejoin="miter"/>
<g font-size="52.8" transform="scale(0.93,1)"><text x="1555.74" y="1009.50" text-anchor="end">0.08</text><text x="1555.74" y="875.90" text-anchor="end">0.10</text><text x="1555.74" y="742.30" text-anchor="end">0.12</text><text x="1555.74" y="608.70" text-anchor="end">0.14</text><text x="1555.74" y="475.10" text-anchor="end">0.16</text><text x="1555.74" y="341.50" text-anchor="end">0.18</text><text x="1555.74" y="207.90" text-anchor="end">0.20</text></g>
<g font-size="51.5" transform="scale(0.95,1)"><text x="1584.00" y="1157.20" text-anchor="middle">0.0</text><text x="1745.00" y="1157.20" text-anchor="middle">0.5</text><text x="1906.00" y="1157.20" text-anchor="middle">1.0</text><text x="2067.00" y="1157.20" text-anchor="middle">1.5</text><text x="2228.00" y="1157.20" text-anchor="middle">2.0</text><text x="2389.00" y="1157.20" text-anchor="middle">2.5</text><text x="2550.00" y="1157.20" text-anchor="middle">3.0</text></g>
<text transform="translate(2397.28,1217.07) scale(1.0209,1)" font-size="59.01">×</text>
<text transform="translate(2434.19,1210.10) scale(0.9179,1)" font-size="49.93">10</text>
<text transform="translate(2479.58,1192.00) scale(0.9625,1)" font-size="35.91" style="stroke:none">17</text>
<text transform="translate(1925.38,65.61) scale(0.8864,1)" font-size="68.61">He-4</text>
<rect x="1484.6" y="111.0" width="448.3" height="170.5" rx="9" fill="#fff" fill-opacity="0.8" stroke="#d6d6d6" stroke-width="2.2"/>
<path d="M1504.30 152.10h115" stroke="#1f77b4" stroke-width="4.17"/>
<path d="M1504.30 229.50h115" stroke="#ff7f0e" stroke-width="4.17"/>
<text transform="translate(1661.46,172.00) scale(1.0045,1)" font-size="55.68">GridFire</text>
<text transform="translate(1662.42,248.80) scale(0.9714,1)" font-size="57.71">Pynucastro</text>
<g stroke="#000" fill="none"><path d="M206.11 2347.70v-11.1M206.11 1318.10v11.1" stroke-width="1.6"/><path d="M236.70 2347.70v-22.2M236.70 1318.10v22.2" stroke-width="2.1"/><path d="M267.29 2347.70v-11.1M267.29 1318.10v11.1" stroke-width="1.6"/><path d="M297.88 2347.70v-11.1M297.88 1318.10v11.1" stroke-width="1.6"/><path d="M328.47 2347.70v-11.1M328.47 1318.10v11.1" stroke-width="1.6"/><path d="M359.06 2347.70v-11.1M359.06 1318.10v11.1" stroke-width="1.6"/><path d="M389.65 2347.70v-22.2M389.65 1318.10v22.2" stroke-width="2.1"/><path d="M420.24 2347.70v-11.1M420.24 1318.10v11.1" stroke-width="1.6"/><path d="M450.83 2347.70v-11.1M450.83 1318.10v11.1" stroke-width="1.6"/><path d="M481.42 2347.70v-11.1M481.42 1318.10v11.1" stroke-width="1.6"/><path d="M512.01 2347.70v-11.1M512.01 1318.10v11.1" stroke-width="1.6"/><path d="M542.60 2347.70v-22.2M542.60 1318.10v22.2" stroke-width="2.1"/><path d="M573.19 2347.70v-11.1M573.19 1318.10v11.1" stroke-width="1.6"/><path d="M603.78 2347.70v-11.1M603.78 1318.10v11.1" stroke-width="1.6"/><path d="M634.37 2347.70v-11.1M634.37 1318.10v11.1" stroke-width="1.6"/><path d="M664.96 2347.70v-11.1M664.96 1318.10v11.1" stroke-width="1.6"/><path d="M695.55 2347.70v-22.2M695.55 1318.10v22.2" stroke-width="2.1"/><path d="M726.14 2347.70v-11.1M726.14 1318.10v11.1" stroke-width="1.6"/><path d="M756.73 2347.70v-11.1M756.73 1318.10v11.1" stroke-width="1.6"/><path d="M787.32 2347.70v-11.1M787.32 1318.10v11.1" stroke-width="1.6"/><path d="M817.91 2347.70v-11.1M817.91 1318.10v11.1" stroke-width="1.6"/><path d="M848.50 2347.70v-22.2M848.50 1318.10v22.2" stroke-width="2.1"/><path d="M879.09 2347.70v-11.1M879.09 1318.10v11.1" stroke-width="1.6"/><path d="M909.68 2347.70v-11.1M909.68 1318.10v11.1" stroke-width="1.6"/><path d="M940.27 2347.70v-11.1M940.27 1318.10v11.1" stroke-width="1.6"/><path d="M970.86 2347.70v-11.1M970.86 1318.10v11.1" stroke-width="1.6"/><path d="M1001.45 2347.70v-22.2M1001.45 1318.10v22.2" stroke-width="2.1"/><path d="M1032.04 2347.70v-11.1M1032.04 1318.10v11.1" stroke-width="1.6"/><path d="M1062.63 2347.70v-11.1M1062.63 1318.10v11.1" stroke-width="1.6"/><path d="M1093.22 2347.70v-11.1M1093.22 1318.10v11.1" stroke-width="1.6"/><path d="M1123.81 2347.70v-11.1M1123.81 1318.10v11.1" stroke-width="1.6"/><path d="M1154.40 2347.70v-22.2M1154.40 1318.10v22.2" stroke-width="2.1"/><path d="M1184.99 2347.70v-11.1M1184.99 1318.10v11.1" stroke-width="1.6"/><path d="M1215.58 2347.70v-11.1M1215.58 1318.10v11.1" stroke-width="1.6"/><path d="M188.70 2340.79h11.1M1245.30 2340.79h-11.1" stroke-width="1.6"/><path d="M188.70 2303.40h11.1M1245.30 2303.40h-11.1" stroke-width="1.6"/><path d="M188.70 2266.01h11.1M1245.30 2266.01h-11.1" stroke-width="1.6"/><path d="M188.70 2228.62h11.1M1245.30 2228.62h-11.1" stroke-width="1.6"/><path d="M188.70 2191.22h11.1M1245.30 2191.22h-11.1" stroke-width="1.6"/><path d="M188.70 2153.83h11.1M1245.30 2153.83h-11.1" stroke-width="1.6"/><path d="M188.70 2116.44h11.1M1245.30 2116.44h-11.1" stroke-width="1.6"/><path d="M188.70 2079.05h11.1M1245.30 2079.05h-11.1" stroke-width="1.6"/><path d="M188.70 2041.66h11.1M1245.30 2041.66h-11.1" stroke-width="1.6"/><path d="M188.70 2004.26h11.1M1245.30 2004.26h-11.1" stroke-width="1.6"/><path d="M188.70 1966.87h11.1M1245.30 1966.87h-11.1" stroke-width="1.6"/><path d="M188.70 1929.48h11.1M1245.30 1929.48h-11.1" stroke-width="1.6"/><path d="M188.70 1892.09h11.1M1245.30 1892.09h-11.1" stroke-width="1.6"/><path d="M188.70 1854.70h11.1M1245.30 1854.70h-11.1" stroke-width="1.6"/><path d="M188.70 1817.30h11.1M1245.30 1817.30h-11.1" stroke-width="1.6"/><path d="M188.70 1779.91h11.1M1245.30 1779.91h-11.1" stroke-width="1.6"/><path d="M188.70 1742.52h11.1M1245.30 1742.52h-11.1" stroke-width="1.6"/><path d="M188.70 1705.13h11.1M1245.30 1705.13h-11.1" stroke-width="1.6"/><path d="M188.70 1667.74h11.1M1245.30 1667.74h-11.1" stroke-width="1.6"/><path d="M188.70 1630.34h11.1M1245.30 1630.34h-11.1" stroke-width="1.6"/><path d="M188.70 1592.95h11.1M1245.30 1592.95h-11.1" stroke-width="1.6"/><path d="M188.70 1555.56h11.1M1245.30 1555.56h-11.1" stroke-width="1.6"/><path d="M188.70 1518.17h11.1M1245.30 1518.17h-11.1" stroke-width="1.6"/><path d="M188.70 1480.78h11.1M1245.30 1480.78h-11.1" stroke-width="1.6"/><path d="M188.70 1443.38h11.1M1245.30 1443.38h-11.1" stroke-width="1.6"/><path d="M188.70 1405.99h11.1M1245.30 1405.99h-11.1" stroke-width="1.6"/><path d="M188.70 1368.60h11.1M1245.30 1368.60h-11.1" stroke-width="1.6"/><path d="M188.70 1331.21h11.1M1245.30 1331.21h-11.1" stroke-width="1.6"/><path d="M188.70 2303.40h22.2M1245.30 2303.40h-22.2" stroke-width="2.1"/><path d="M188.70 2116.44h22.2M1245.30 2116.44h-22.2" stroke-width="2.1"/><path d="M188.70 1929.48h22.2M1245.30 1929.48h-22.2" stroke-width="2.1"/><path d="M188.70 1742.52h22.2M1245.30 1742.52h-22.2" stroke-width="2.1"/><path d="M188.70 1555.56h22.2M1245.30 1555.56h-22.2" stroke-width="2.1"/><path d="M188.70 1368.60h22.2M1245.30 1368.60h-22.2" stroke-width="2.1"/></g>
<path d="M236.70 1368.60 L236.83 1368.60 L237.10 1368.59 L237.47 1368.58 L237.92 1368.57 L238.44 1368.56 L239.02 1368.55 L239.68 1368.54 L240.38 1368.52 L241.15 1368.51 L241.96 1368.49 L242.83 1368.47 L243.75 1368.45 L244.71 1368.44 L245.72 1368.42 L246.77 1368.40 L247.87 1368.38 L249.01 1368.36 L250.18 1368.34 L251.40 1368.31 L252.66 1368.29 L253.96 1368.27 L255.29 1368.25 L256.66 1368.22 L258.07 1368.20 L259.51 1368.18 L260.98 1368.16 L262.50 1368.13 L264.04 1368.11 L265.62 1368.09 L267.23 1368.06 L268.88 1368.04 L270.55 1368.01 L272.26 1367.99 L274.00 1367.97 L275.77 1367.94 L277.57 1367.92 L279.41 1367.90 L281.27 1367.87 L283.16 1367.85 L285.08 1367.83 L287.03 1367.80 L289.01 1367.78 L291.01 1367.75 L293.05 1367.73 L295.11 1367.71 L297.20 1367.69 L299.32 1367.66 L301.47 1367.64 L303.64 1367.62 L305.84 1367.59 L308.06 1367.57 L310.32 1367.55 L312.59 1367.53 L314.90 1367.50 L317.23 1367.48 L319.58 1367.46 L321.96 1367.44 L324.37 1367.42 L326.80 1367.40 L329.26 1367.37 L331.74 1367.35 L334.24 1367.33 L336.77 1367.31 L339.33 1367.29 L341.90 1367.27 L344.50 1367.25 L347.13 1367.23 L349.78 1367.21 L352.45 1367.19 L355.15 1367.17 L357.87 1367.15 L360.61 1367.13 L363.37 1367.11 L366.16 1367.09 L368.97 1367.07 L371.80 1367.05 L374.66 1367.03 L377.54 1367.01 L380.44 1366.99 L383.36 1366.97 L386.30 1366.95 L389.27 1366.94 L392.26 1366.92 L395.27 1366.90 L398.30 1366.88 L401.35 1366.86 L404.43 1366.85 L407.52 1366.83 L410.64 1366.81 L413.77 1366.79 L416.93 1366.77 L420.11 1366.76 L423.31 1366.74 L426.53 1366.72 L429.77 1366.71 L433.04 1366.69 L436.32 1366.67 L439.62 1366.65 L442.95 1366.64 L446.29 1366.62 L449.65 1366.61 L453.04 1366.59 L456.44 1366.57 L459.86 1366.56 L463.31 1366.54 L466.77 1366.52 L470.25 1366.51 L473.75 1366.49 L477.27 1366.48 L480.82 1366.46 L484.38 1366.45 L487.96 1366.43 L491.56 1366.42 L495.17 1366.40 L498.81 1366.39 L502.47 1366.37 L506.14 1366.36 L509.84 1366.34 L513.55 1366.33 L517.28 1366.31 L521.03 1366.30 L524.80 1366.28 L528.59 1366.27 L532.39 1366.25 L536.22 1366.24 L540.06 1366.23 L543.92 1366.21 L547.80 1366.20 L551.70 1366.18 L555.62 1366.17 L559.55 1366.16 L563.50 1366.14 L567.47 1366.13 L571.46 1366.12 L575.47 1366.10 L579.49 1366.09 L583.53 1366.08 L587.59 1366.06 L591.67 1366.05 L595.76 1366.04 L599.88 1366.02 L604.01 1366.01 L608.15 1366.00 L612.32 1365.99 L616.50 1365.97 L620.70 1365.96 L624.92 1365.95 L629.15 1365.94 L633.40 1365.92 L637.67 1365.91 L641.96 1365.90 L646.26 1365.89 L650.58 1365.87 L654.92 1365.86 L659.27 1365.85 L663.64 1365.84 L668.03 1365.83 L672.43 1365.81 L676.85 1365.80 L681.29 1365.79 L685.74 1365.78 L690.22 1365.77 L694.70 1365.76 L699.21 1365.74 L703.73 1365.73 L708.26 1365.72 L712.82 1365.71 L717.39 1365.70 L721.97 1365.69 L726.58 1365.68 L731.19 1365.67 L735.83 1365.65 L740.48 1365.64 L745.15 1365.63 L749.83 1365.62 L754.53 1365.61 L759.25 1365.60 L763.98 1365.59 L768.73 1365.58 L773.49 1365.57 L778.27 1365.56 L783.06 1365.55 L787.88 1365.54 L792.70 1365.53 L797.54 1365.52 L802.40 1365.51 L807.28 1365.49 L812.17 1365.48 L817.07 1365.47 L821.99 1365.46 L826.93 1365.45 L831.88 1365.44 L836.85 1365.43 L841.83 1365.42 L846.83 1365.41 L851.85 1365.40 L856.87 1365.39 L861.92 1365.38 L866.98 1365.37 L872.05 1365.37 L877.14 1365.36 L882.25 1365.35 L887.37 1365.34 L892.51 1365.33 L897.66 1365.32 L902.82 1365.31 L908.01 1365.30 L913.20 1365.29 L918.41 1365.28 L923.64 1365.27 L928.88 1365.26 L934.14 1365.25 L939.41 1365.24 L944.69 1365.23 L950.00 1365.22 L955.31 1365.21 L960.64 1365.21 L965.99 1365.20 L971.35 1365.19 L976.72 1365.18 L982.11 1365.17 L987.51 1365.16 L992.93 1365.15 L998.37 1365.14 L1003.81 1365.13 L1009.28 1365.13 L1014.75 1365.12 L1020.24 1365.11 L1025.75 1365.10 L1031.27 1365.09 L1036.80 1365.08 L1042.35 1365.07 L1047.92 1365.07 L1053.50 1365.06 L1059.09 1365.05 L1064.69 1365.04 L1070.31 1365.03 L1075.95 1365.02 L1081.60 1365.02 L1087.26 1365.01 L1092.94 1365.00 L1098.63 1364.99 L1104.34 1364.98 L1110.06 1364.97 L1115.79 1364.97 L1121.54 1364.96 L1127.30 1364.95 L1133.08 1364.94 L1138.87 1364.93 L1144.67 1364.93 L1150.49 1364.92 L1156.32 1364.91 L1162.17 1364.90 L1168.03 1364.89 L1173.90 1364.89 L1179.79 1364.88 L1185.69 1364.87 L1191.60 1364.86 L1197.53 1364.86" fill="none" stroke="#1f77b4" stroke-width="4.17" stroke-linecap="square" stroke-linejoin="round"/><path d="M236.70 1368.60 L237.20 2300.90 L1197.50 2300.90" fill="none" stroke="#ff7f0e" stroke-width="4.17" stroke-linecap="square" stroke-linejoin="round"/>
<rect x="188.7" y="1318.1" width="1056.60" height="1029.60" fill="none" stroke="#000" stroke-width="2.2" stroke-linejoin="miter"/>
<g font-size="52.8" transform="scale(0.93,1)"><text x="192.19" y="2321.90" text-anchor="end">0.00000</text><text x="192.19" y="2134.94" text-anchor="end">0.00005</text><text x="192.19" y="1947.98" text-anchor="end">0.00010</text><text x="192.19" y="1761.02" text-anchor="end">0.00015</text><text x="192.19" y="1574.06" text-anchor="end">0.00020</text><text x="192.19" y="1387.10" text-anchor="end">0.00025</text></g>
<g font-size="51.5" transform="scale(0.95,1)"><text x="249.16" y="2392.80" text-anchor="middle">0.0</text><text x="410.16" y="2392.80" text-anchor="middle">0.5</text><text x="571.16" y="2392.80" text-anchor="middle">1.0</text><text x="732.16" y="2392.80" text-anchor="middle">1.5</text><text x="893.16" y="2392.80" text-anchor="middle">2.0</text><text x="1054.16" y="2392.80" text-anchor="middle">2.5</text><text x="1215.16" y="2392.80" text-anchor="middle">3.0</text></g>
<text transform="translate(1129.18,2452.67) scale(1.0209,1)" font-size="59.01">×</text>
<text transform="translate(1166.09,2445.70) scale(0.9179,1)" font-size="49.93">10</text>
<text transform="translate(1211.48,2427.60) scale(0.9625,1)" font-size="35.91" style="stroke:none">17</text>
<text transform="translate(654.48,1302.10) scale(0.8994,1)" font-size="70.04">C-12</text>
<rect x="768.8" y="1748.2" width="448.3" height="170.5" rx="9" fill="#fff" fill-opacity="0.8" stroke="#d6d6d6" stroke-width="2.2"/>
<path d="M788.50 1789.30h115" stroke="#1f77b4" stroke-width="4.17"/>
<path d="M788.50 1866.70h115" stroke="#ff7f0e" stroke-width="4.17"/>
<text transform="translate(945.66,1809.20) scale(1.0045,1)" font-size="55.68">GridFire</text>
<text transform="translate(946.62,1886.00) scale(0.9714,1)" font-size="57.71">Pynucastro</text>
<g stroke="#000" fill="none"><path d="M1474.21 2347.70v-11.1M1474.21 1318.10v11.1" stroke-width="1.6"/><path d="M1504.80 2347.70v-22.2M1504.80 1318.10v22.2" stroke-width="2.1"/><path d="M1535.39 2347.70v-11.1M1535.39 1318.10v11.1" stroke-width="1.6"/><path d="M1565.98 2347.70v-11.1M1565.98 1318.10v11.1" stroke-width="1.6"/><path d="M1596.57 2347.70v-11.1M1596.57 1318.10v11.1" stroke-width="1.6"/><path d="M1627.16 2347.70v-11.1M1627.16 1318.10v11.1" stroke-width="1.6"/><path d="M1657.75 2347.70v-22.2M1657.75 1318.10v22.2" stroke-width="2.1"/><path d="M1688.34 2347.70v-11.1M1688.34 1318.10v11.1" stroke-width="1.6"/><path d="M1718.93 2347.70v-11.1M1718.93 1318.10v11.1" stroke-width="1.6"/><path d="M1749.52 2347.70v-11.1M1749.52 1318.10v11.1" stroke-width="1.6"/><path d="M1780.11 2347.70v-11.1M1780.11 1318.10v11.1" stroke-width="1.6"/><path d="M1810.70 2347.70v-22.2M1810.70 1318.10v22.2" stroke-width="2.1"/><path d="M1841.29 2347.70v-11.1M1841.29 1318.10v11.1" stroke-width="1.6"/><path d="M1871.88 2347.70v-11.1M1871.88 1318.10v11.1" stroke-width="1.6"/><path d="M1902.47 2347.70v-11.1M1902.47 1318.10v11.1" stroke-width="1.6"/><path d="M1933.06 2347.70v-11.1M1933.06 1318.10v11.1" stroke-width="1.6"/><path d="M1963.65 2347.70v-22.2M1963.65 1318.10v22.2" stroke-width="2.1"/><path d="M1994.24 2347.70v-11.1M1994.24 1318.10v11.1" stroke-width="1.6"/><path d="M2024.83 2347.70v-11.1M2024.83 1318.10v11.1" stroke-width="1.6"/><path d="M2055.42 2347.70v-11.1M2055.42 1318.10v11.1" stroke-width="1.6"/><path d="M2086.01 2347.70v-11.1M2086.01 1318.10v11.1" stroke-width="1.6"/><path d="M2116.60 2347.70v-22.2M2116.60 1318.10v22.2" stroke-width="2.1"/><path d="M2147.19 2347.70v-11.1M2147.19 1318.10v11.1" stroke-width="1.6"/><path d="M2177.78 2347.70v-11.1M2177.78 1318.10v11.1" stroke-width="1.6"/><path d="M2208.37 2347.70v-11.1M2208.37 1318.10v11.1" stroke-width="1.6"/><path d="M2238.96 2347.70v-11.1M2238.96 1318.10v11.1" stroke-width="1.6"/><path d="M2269.55 2347.70v-22.2M2269.55 1318.10v22.2" stroke-width="2.1"/><path d="M2300.14 2347.70v-11.1M2300.14 1318.10v11.1" stroke-width="1.6"/><path d="M2330.73 2347.70v-11.1M2330.73 1318.10v11.1" stroke-width="1.6"/><path d="M2361.32 2347.70v-11.1M2361.32 1318.10v11.1" stroke-width="1.6"/><path d="M2391.91 2347.70v-11.1M2391.91 1318.10v11.1" stroke-width="1.6"/><path d="M2422.50 2347.70v-22.2M2422.50 1318.10v22.2" stroke-width="2.1"/><path d="M2453.09 2347.70v-11.1M2453.09 1318.10v11.1" stroke-width="1.6"/><path d="M2483.68 2347.70v-11.1M2483.68 1318.10v11.1" stroke-width="1.6"/><path d="M1456.80 2315.50h11.1M2513.40 2315.50h-11.1" stroke-width="1.6"/><path d="M1456.80 2263.55h11.1M2513.40 2263.55h-11.1" stroke-width="1.6"/><path d="M1456.80 2211.60h11.1M2513.40 2211.60h-11.1" stroke-width="1.6"/><path d="M1456.80 2159.65h11.1M2513.40 2159.65h-11.1" stroke-width="1.6"/><path d="M1456.80 2107.70h11.1M2513.40 2107.70h-11.1" stroke-width="1.6"/><path d="M1456.80 2055.75h11.1M2513.40 2055.75h-11.1" stroke-width="1.6"/><path d="M1456.80 2003.80h11.1M2513.40 2003.80h-11.1" stroke-width="1.6"/><path d="M1456.80 1951.85h11.1M2513.40 1951.85h-11.1" stroke-width="1.6"/><path d="M1456.80 1899.90h11.1M2513.40 1899.90h-11.1" stroke-width="1.6"/><path d="M1456.80 1847.95h11.1M2513.40 1847.95h-11.1" stroke-width="1.6"/><path d="M1456.80 1796.00h11.1M2513.40 1796.00h-11.1" stroke-width="1.6"/><path d="M1456.80 1744.05h11.1M2513.40 1744.05h-11.1" stroke-width="1.6"/><path d="M1456.80 1692.10h11.1M2513.40 1692.10h-11.1" stroke-width="1.6"/><path d="M1456.80 1640.15h11.1M2513.40 1640.15h-11.1" stroke-width="1.6"/><path d="M1456.80 1588.20h11.1M2513.40 1588.20h-11.1" stroke-width="1.6"/><path d="M1456.80 1536.25h11.1M2513.40 1536.25h-11.1" stroke-width="1.6"/><path d="M1456.80 1484.30h11.1M2513.40 1484.30h-11.1" stroke-width="1.6"/><path d="M1456.80 1432.35h11.1M2513.40 1432.35h-11.1" stroke-width="1.6"/><path d="M1456.80 1380.40h11.1M2513.40 1380.40h-11.1" stroke-width="1.6"/><path d="M1456.80 1328.45h11.1M2513.40 1328.45h-11.1" stroke-width="1.6"/><path d="M1456.80 2211.60h22.2M2513.40 2211.60h-22.2" stroke-width="2.1"/><path d="M1456.80 2003.80h22.2M2513.40 2003.80h-22.2" stroke-width="2.1"/><path d="M1456.80 1796.00h22.2M2513.40 1796.00h-22.2" stroke-width="2.1"/><path d="M1456.80 1588.20h22.2M2513.40 1588.20h-22.2" stroke-width="2.1"/><path d="M1456.80 1380.40h22.2M2513.40 1380.40h-22.2" stroke-width="2.1"/></g>
<path d="M1504.80 1364.81 L1504.93 1365.10 L1505.20 1365.69 L1505.57 1366.49 L1506.02 1367.46 L1506.54 1368.59 L1507.12 1369.87 L1507.78 1371.28 L1508.48 1372.81 L1509.25 1374.46 L1510.06 1376.21 L1510.93 1378.07 L1511.85 1380.03 L1512.81 1382.09 L1513.82 1384.23 L1514.87 1386.46 L1515.97 1388.78 L1517.11 1391.18 L1518.28 1393.65 L1519.50 1396.20 L1520.76 1398.82 L1522.06 1401.51 L1523.39 1404.27 L1524.76 1407.10 L1526.17 1409.98 L1527.61 1412.93 L1529.08 1415.94 L1530.60 1419.00 L1532.14 1422.12 L1533.72 1425.30 L1535.33 1428.52 L1536.98 1431.80 L1538.65 1435.12 L1540.36 1438.49 L1542.10 1441.91 L1543.87 1445.37 L1545.67 1448.87 L1547.51 1452.41 L1549.37 1456.00 L1551.26 1459.62 L1553.18 1463.28 L1555.13 1466.97 L1557.11 1470.70 L1559.11 1474.46 L1561.15 1478.26 L1563.21 1482.09 L1565.30 1485.94 L1567.42 1489.83 L1569.57 1493.74 L1571.74 1497.68 L1573.94 1501.65 L1576.16 1505.64 L1578.42 1509.65 L1580.69 1513.69 L1583.00 1517.75 L1585.33 1521.83 L1587.68 1525.93 L1590.06 1530.05 L1592.47 1534.19 L1594.90 1538.35 L1597.36 1542.52 L1599.84 1546.71 L1602.34 1550.92 L1604.87 1555.14 L1607.43 1559.37 L1610.00 1563.62 L1612.60 1567.88 L1615.23 1572.16 L1617.88 1576.44 L1620.55 1580.73 L1623.25 1585.04 L1625.97 1589.35 L1628.71 1593.68 L1631.47 1598.01 L1634.26 1602.35 L1637.07 1606.69 L1639.90 1611.04 L1642.76 1615.40 L1645.64 1619.77 L1648.54 1624.13 L1651.46 1628.51 L1654.40 1632.89 L1657.37 1637.27 L1660.36 1641.65 L1663.37 1646.04 L1666.40 1650.43 L1669.45 1654.82 L1672.53 1659.21 L1675.62 1663.60 L1678.74 1668.00 L1681.87 1672.39 L1685.03 1676.79 L1688.21 1681.18 L1691.41 1685.58 L1694.63 1689.97 L1697.87 1694.36 L1701.14 1698.75 L1704.42 1703.13 L1707.72 1707.52 L1711.05 1711.90 L1714.39 1716.28 L1717.75 1720.65 L1721.14 1725.02 L1724.54 1729.39 L1727.96 1733.76 L1731.41 1738.11 L1734.87 1742.47 L1738.35 1746.82 L1741.85 1751.16 L1745.37 1755.50 L1748.92 1759.84 L1752.48 1764.17 L1756.06 1768.49 L1759.66 1772.81 L1763.27 1777.12 L1766.91 1781.42 L1770.57 1785.72 L1774.24 1790.01 L1777.94 1794.29 L1781.65 1798.57 L1785.38 1802.83 L1789.13 1807.09 L1792.90 1811.35 L1796.69 1815.59 L1800.49 1819.83 L1804.32 1824.06 L1808.16 1828.28 L1812.02 1832.50 L1815.90 1836.70 L1819.80 1840.90 L1823.72 1845.09 L1827.65 1849.27 L1831.60 1853.44 L1835.57 1857.60 L1839.56 1861.75 L1843.57 1865.89 L1847.59 1870.03 L1851.63 1874.15 L1855.69 1878.27 L1859.77 1882.37 L1863.86 1886.47 L1867.98 1890.55 L1872.11 1894.63 L1876.25 1898.70 L1880.42 1902.76 L1884.60 1906.80 L1888.80 1910.84 L1893.02 1914.87 L1897.25 1918.89 L1901.50 1922.89 L1905.77 1926.89 L1910.06 1930.88 L1914.36 1934.85 L1918.68 1938.82 L1923.02 1942.78 L1927.37 1946.72 L1931.74 1950.66 L1936.13 1954.58 L1940.53 1958.50 L1944.95 1962.40 L1949.39 1966.30 L1953.84 1970.18 L1958.32 1974.05 L1962.80 1977.91 L1967.31 1981.77 L1971.83 1985.61 L1976.36 1989.44 L1980.92 1993.26 L1985.49 1997.07 L1990.07 2000.87 L1994.68 2004.65 L1999.29 2008.43 L2003.93 2012.20 L2008.58 2015.95 L2013.25 2019.70 L2017.93 2023.43 L2022.63 2027.16 L2027.35 2030.87 L2032.08 2034.57 L2036.83 2038.27 L2041.59 2041.95 L2046.37 2045.62 L2051.16 2049.28 L2055.98 2052.93 L2060.80 2056.57 L2065.64 2060.20 L2070.50 2063.81 L2075.38 2067.42 L2080.27 2071.02 L2085.17 2074.61 L2090.09 2078.18 L2095.03 2081.75 L2099.98 2085.30 L2104.95 2088.85 L2109.93 2092.38 L2114.93 2095.90 L2119.95 2099.42 L2124.97 2102.92 L2130.02 2106.41 L2135.08 2109.89 L2140.15 2113.36 L2145.24 2116.82 L2150.35 2120.28 L2155.47 2123.72 L2160.61 2127.15 L2165.76 2130.57 L2170.92 2133.98 L2176.11 2137.38 L2181.30 2140.77 L2186.51 2144.14 L2191.74 2147.51 L2196.98 2150.87 L2202.24 2154.22 L2207.51 2157.56 L2212.79 2160.89 L2218.10 2164.21 L2223.41 2167.52 L2228.74 2170.82 L2234.09 2174.11 L2239.45 2177.39 L2244.82 2180.66 L2250.21 2183.92 L2255.61 2187.17 L2261.03 2190.41 L2266.47 2193.64 L2271.91 2196.86 L2277.38 2200.07 L2282.85 2203.28 L2288.34 2206.47 L2293.85 2209.65 L2299.37 2212.83 L2304.90 2215.99 L2310.45 2219.14 L2316.02 2222.29 L2321.60 2225.43 L2327.19 2228.55 L2332.79 2231.67 L2338.41 2234.78 L2344.05 2237.88 L2349.70 2240.97 L2355.36 2244.05 L2361.04 2247.12 L2366.73 2250.18 L2372.44 2253.24 L2378.16 2256.28 L2383.89 2259.32 L2389.64 2262.34 L2395.40 2265.36 L2401.18 2268.37 L2406.97 2271.37 L2412.77 2274.36 L2418.59 2277.34 L2424.42 2280.31 L2430.27 2283.28 L2436.13 2286.24 L2442.00 2289.18 L2447.89 2292.12 L2453.79 2295.05 L2459.70 2297.97 L2465.63 2300.89" fill="none" stroke="#1f77b4" stroke-width="4.17" stroke-linecap="square" stroke-linejoin="round"/><path d="M1504.80 1364.81 L1504.93 1365.08 L1505.20 1365.63 L1505.57 1366.37 L1506.02 1367.27 L1506.54 1368.32 L1507.12 1369.51 L1507.78 1370.81 L1508.48 1372.23 L1509.25 1373.76 L1510.06 1375.39 L1510.93 1377.11 L1511.85 1378.93 L1512.81 1380.83 L1513.82 1382.81 L1514.87 1384.88 L1515.97 1387.02 L1517.11 1389.24 L1518.28 1391.53 L1519.50 1393.88 L1520.76 1396.30 L1522.06 1398.78 L1523.39 1401.33 L1524.76 1403.93 L1526.17 1406.59 L1527.61 1409.31 L1529.08 1412.08 L1530.60 1414.90 L1532.14 1417.77 L1533.72 1420.68 L1535.33 1423.64 L1536.98 1426.65 L1538.65 1429.70 L1540.36 1432.79 L1542.10 1435.92 L1543.87 1439.09 L1545.67 1442.29 L1547.51 1445.53 L1549.37 1448.81 L1551.26 1452.11 L1553.18 1455.45 L1555.13 1458.82 L1557.11 1462.22 L1559.11 1465.65 L1561.15 1469.10 L1563.21 1472.58 L1565.30 1476.09 L1567.42 1479.61 L1569.57 1483.17 L1571.74 1486.74 L1573.94 1490.33 L1576.16 1493.95 L1578.42 1497.58 L1580.69 1501.23 L1583.00 1504.90 L1585.33 1508.58 L1587.68 1512.28 L1590.06 1516.00 L1592.47 1519.72 L1594.90 1523.47 L1597.36 1527.22 L1599.84 1530.98 L1602.34 1534.76 L1604.87 1538.55 L1607.43 1542.34 L1610.00 1546.15 L1612.60 1549.96 L1615.23 1553.78 L1617.88 1557.61 L1620.55 1561.44 L1623.25 1565.28 L1625.97 1569.13 L1628.71 1572.98 L1631.47 1576.83 L1634.26 1580.69 L1637.07 1584.55 L1639.90 1588.41 L1642.76 1592.27 L1645.64 1596.14 L1648.54 1600.01 L1651.46 1603.87 L1654.40 1607.74 L1657.37 1611.61 L1660.36 1615.48 L1663.37 1619.34 L1666.40 1623.21 L1669.45 1627.07 L1672.53 1630.93 L1675.62 1634.79 L1678.74 1638.64 L1681.87 1642.50 L1685.03 1646.35 L1688.21 1650.19 L1691.41 1654.03 L1694.63 1657.87 L1697.87 1661.70 L1701.14 1665.52 L1704.42 1669.34 L1707.72 1673.16 L1711.05 1676.97 L1714.39 1680.77 L1717.75 1684.57 L1721.14 1688.36 L1724.54 1692.14 L1727.96 1695.92 L1731.41 1699.68 L1734.87 1703.45 L1738.35 1707.20 L1741.85 1710.94 L1745.37 1714.68 L1748.92 1718.41 L1752.48 1722.13 L1756.06 1725.84 L1759.66 1729.55 L1763.27 1733.24 L1766.91 1736.93 L1770.57 1740.60 L1774.24 1744.27 L1777.94 1747.93 L1781.65 1751.57 L1785.38 1755.21 L1789.13 1758.84 L1792.90 1762.46 L1796.69 1766.07 L1800.49 1769.66 L1804.32 1773.25 L1808.16 1776.83 L1812.02 1780.39 L1815.90 1783.95 L1819.80 1787.49 L1823.72 1791.03 L1827.65 1794.55 L1831.60 1798.06 L1835.57 1801.56 L1839.56 1805.05 L1843.57 1808.53 L1847.59 1812.00 L1851.63 1815.45 L1855.69 1818.90 L1859.77 1822.33 L1863.86 1825.76 L1867.98 1829.17 L1872.11 1832.57 L1876.25 1835.95 L1880.42 1839.33 L1884.60 1842.69 L1888.80 1846.05 L1893.02 1849.39 L1897.25 1852.72 L1901.50 1856.03 L1905.77 1859.34 L1910.06 1862.63 L1914.36 1865.91 L1918.68 1869.18 L1923.02 1872.44 L1927.37 1875.69 L1931.74 1878.92 L1936.13 1882.15 L1940.53 1885.36 L1944.95 1888.55 L1949.39 1891.74 L1953.84 1894.92 L1958.32 1898.08 L1962.80 1901.23 L1967.31 1904.37 L1971.83 1907.50 L1976.36 1910.61 L1980.92 1913.71 L1985.49 1916.81 L1990.07 1919.89 L1994.68 1922.95 L1999.29 1926.01 L2003.93 1929.05 L2008.58 1932.09 L2013.25 1935.11 L2017.93 1938.11 L2022.63 1941.11 L2027.35 1944.10 L2032.08 1947.07 L2036.83 1950.03 L2041.59 1952.98 L2046.37 1955.92 L2051.16 1958.84 L2055.98 1961.76 L2060.80 1964.66 L2065.64 1967.55 L2070.50 1970.43 L2075.38 1973.30 L2080.27 1976.16 L2085.17 1979.00 L2090.09 1981.84 L2095.03 1984.66 L2099.98 1987.47 L2104.95 1990.27 L2109.93 1993.06 L2114.93 1995.84 L2119.95 1998.60 L2124.97 2001.36 L2130.02 2004.10 L2135.08 2006.83 L2140.15 2009.55 L2145.24 2012.26 L2150.35 2014.96 L2155.47 2017.65 L2160.61 2020.33 L2165.76 2022.99 L2170.92 2025.65 L2176.11 2028.29 L2181.30 2030.92 L2186.51 2033.55 L2191.74 2036.16 L2196.98 2038.76 L2202.24 2041.35 L2207.51 2043.93 L2212.79 2046.50 L2218.10 2049.05 L2223.41 2051.60 L2228.74 2054.14 L2234.09 2056.67 L2239.45 2059.18 L2244.82 2061.69 L2250.21 2064.18 L2255.61 2066.67 L2261.03 2069.14 L2266.47 2071.61 L2271.91 2074.06 L2277.38 2076.51 L2282.85 2078.94 L2288.34 2081.36 L2293.85 2083.78 L2299.37 2086.18 L2304.90 2088.58 L2310.45 2090.96 L2316.02 2093.33 L2321.60 2095.70 L2327.19 2098.05 L2332.79 2100.40 L2338.41 2102.73 L2344.05 2105.06 L2349.70 2107.37 L2355.36 2109.68 L2361.04 2111.98 L2366.73 2114.26 L2372.44 2116.54 L2378.16 2118.81 L2383.89 2121.07 L2389.64 2123.32 L2395.40 2125.56 L2401.18 2127.79 L2406.97 2130.01 L2412.77 2132.22 L2418.59 2134.43 L2424.42 2136.62 L2430.27 2138.81 L2436.13 2140.98 L2442.00 2143.15 L2447.89 2145.31 L2453.79 2147.46 L2459.70 2149.60 L2465.63 2151.73" fill="none" stroke="#ff7f0e" stroke-width="4.17" stroke-linecap="square" stroke-linejoin="round"/>
<rect x="1456.8" y="1318.1" width="1056.60" height="1029.60" fill="none" stroke="#000" stroke-width="2.2" stroke-linejoin="miter"/>
<g font-size="52.8" transform="scale(0.93,1)"><text x="1555.74" y="2230.10" text-anchor="end">0.00052</text><text x="1555.74" y="2022.30" text-anchor="end">0.00054</text><text x="1555.74" y="1814.50" text-anchor="end">0.00056</text><text x="1555.74" y="1606.70" text-anchor="end">0.00058</text><text x="1555.74" y="1398.90" text-anchor="end">0.00060</text></g>
<g font-size="51.5" transform="scale(0.95,1)"><text x="1584.00" y="2392.80" text-anchor="middle">0.0</text><text x="1745.00" y="2392.80" text-anchor="middle">0.5</text><text x="1906.00" y="2392.80" text-anchor="middle">1.0</text><text x="2067.00" y="2392.80" text-anchor="middle">1.5</text><text x="2228.00" y="2392.80" text-anchor="middle">2.0</text><text x="2389.00" y="2392.80" text-anchor="middle">2.5</text><text x="2550.00" y="2392.80" text-anchor="middle">3.0</text></g>
<text transform="translate(2397.28,2452.67) scale(1.0209,1)" font-size="59.01">×</text>
<text transform="translate(2434.19,2445.70) scale(0.9179,1)" font-size="49.93">10</text>
<text transform="translate(2479.58,2427.60) scale(0.9625,1)" font-size="35.91" style="stroke:none">17</text>
<text transform="translate(1921.32,1302.10) scale(0.8806,1)" font-size="70.48">O-16</text>
<rect x="2037.0" y="1346.6" width="448.3" height="170.5" rx="9" fill="#fff" fill-opacity="0.8" stroke="#d6d6d6" stroke-width="2.2"/>
<path d="M2056.70 1387.70h115" stroke="#1f77b4" stroke-width="4.17"/>
<path d="M2056.70 1465.10h115" stroke="#ff7f0e" stroke-width="4.17"/>
<text transform="translate(2213.86,1407.60) scale(1.0045,1)" font-size="55.68">GridFire</text>
<text transform="translate(2214.82,1484.40) scale(0.9714,1)" font-size="57.71">Pynucastro</text>
</svg></body></html>
